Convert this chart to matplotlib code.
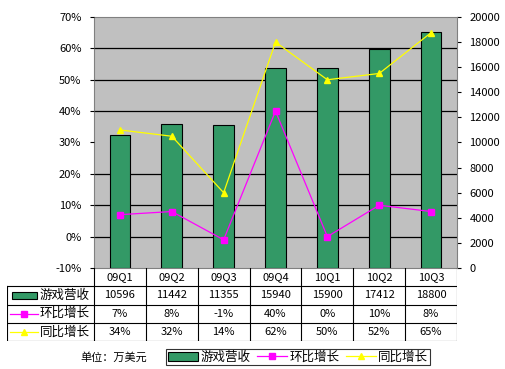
import numpy as np
import matplotlib.pyplot as plt
from matplotlib.lines import Line2D
from matplotlib.patches import Rectangle

plt.rcParams['font.family'] = ['Noto Sans CJK SC', 'DejaVu Sans']

quarters = ['09Q1', '09Q2', '09Q3', '09Q4', '10Q1', '10Q2', '10Q3']
revenue = [10596, 11442, 11355, 15940, 15900, 17412, 18800]
qoq = [7, 8, -1, 40, 0, 10, 8]     # 环比增长 %
yoy = [34, 32, 14, 62, 50, 52, 65]  # 同比增长 %
row_names = ['游戏营收', '环比增长', '同比增长']

W, H = 505, 369
fig = plt.figure(figsize=(W / 100, H / 100), dpi=100)
fig.patch.set_facecolor('white')

def box(x0, y0, x1, y1):
    # pixel box (top-left origin) -> figure fraction rect
    return [x0 / W, 1 - y1 / H, (x1 - x0) / W, (y1 - y0) / H]

green = '#339966'
fs = 8

ax = fig.add_axes(box(94, 17, 457, 268))
ax.set_facecolor('#C0C0C0')
x = np.arange(len(quarters))
ax.bar(x, revenue, width=0.4, color=green, edgecolor='black', linewidth=0.8, zorder=3)
ax.set_xlim(-0.5, len(quarters) - 0.5)
ax.set_ylim(0, 20000)
ax.set_yticks(np.arange(0, 20001, 2000))
ax.set_yticks(np.arange(0, 20001, 2500), minor=True)
ax.grid(which='minor', axis='y', color='black', linewidth=0.9, zorder=1)
ax.set_xticks([])
for s in ax.spines.values():
    s.set_color('#808080')

ax2 = ax.twinx()
ax2.plot(x, qoq, color='#FF00FF', marker='s', markersize=4, linewidth=0.9, zorder=4)
ax2.plot(x, yoy, color='#FFFF00', marker='^', markersize=5, linewidth=0.9, zorder=4)
ax2.set_ylim(-10, 70)
ax2.set_yticks(np.arange(-10, 71, 10))
ax2.set_yticklabels([f'{v}%' for v in range(-10, 71, 10)])
for s in ax2.spines.values():
    s.set_visible(False)

# swap sides: revenue on the right, percent on the left
ax.yaxis.tick_right()
ax.yaxis.set_label_position('right')
ax2.yaxis.tick_left()
ax2.yaxis.set_label_position('left')
ax.tick_params(axis='y', which='major', labelsize=fs, length=3, pad=6)
ax.tick_params(axis='y', which='minor', length=0)
ax2.tick_params(axis='y', labelsize=fs, length=3, pad=6)

# data table under the chart
lab_w = (94 - 7) / ((457 - 94) / len(quarters))
tax = fig.add_axes(box(7, 268, 457, 341))
tax.set_xlim(-0.5 - lab_w, len(quarters) - 0.5)
tax.set_ylim(0, 4)
tax.axis('off')
left = -0.5 - lab_w
right = len(quarters) - 0.5
lk = dict(color='black', linewidth=0.8)
for yy in [0, 1, 2, 3]:
    tax.plot([left, right], [yy, yy], **lk)
for i in range(len(quarters) + 1):
    tax.plot([i - 0.5, i - 0.5], [0, 4], **lk)
tax.plot([left, left], [0, 3], **lk)

for i, q in enumerate(quarters):
    tax.text(i, 3.5, q, ha='center', va='center', fontsize=fs)
    tax.text(i, 2.5, str(revenue[i]), ha='center', va='center', fontsize=fs)
    tax.text(i, 1.5, f'{qoq[i]}%', ha='center', va='center', fontsize=fs)
    tax.text(i, 0.5, f'{yoy[i]}%', ha='center', va='center', fontsize=fs)

hx0, hx1 = left + 0.06, left + 0.6
tax.add_patch(Rectangle((hx0 + 0.03, 2.3), hx1 - hx0 - 0.06, 0.4,
                        facecolor=green, edgecolor='black', linewidth=0.8))
tax.plot([hx0, hx1], [1.5, 1.5], color='#FF00FF', linewidth=0.9)
tax.plot([(hx0 + hx1) / 2], [1.5], color='#FF00FF', marker='s', markersize=4)
tax.plot([hx0, hx1], [0.5, 0.5], color='#FFFF00', linewidth=0.9)
tax.plot([(hx0 + hx1) / 2], [0.5], color='#FFFF00', marker='^', markersize=5)
for r, name in enumerate(row_names):
    tax.text(hx1 + 0.03, 2.5 - r, name, ha='left', va='center', fontsize=9)

fig.text(80 / W, 1 - 357 / H, '单位：万美元', ha='left', va='center', fontsize=fs)

handles = [Rectangle((0, 0), 1, 1, facecolor=green, edgecolor='black', linewidth=0.8),
           Line2D([], [], color='#FF00FF', marker='s', markersize=4, linewidth=0.9),
           Line2D([], [], color='#FFFF00', marker='^', markersize=5, linewidth=0.9)]
leg = fig.legend(handles, row_names, loc='center', bbox_to_anchor=(298 / W, 1 - 357 / H),
                 ncol=3, fontsize=9, frameon=True, fancybox=False, edgecolor='black',
                 borderpad=0.15, handlelength=2.4, handletextpad=0.2, columnspacing=0.5,
                 borderaxespad=0)
leg.get_frame().set_linewidth(0.8)

fig.savefig('out.png', dpi=100)
